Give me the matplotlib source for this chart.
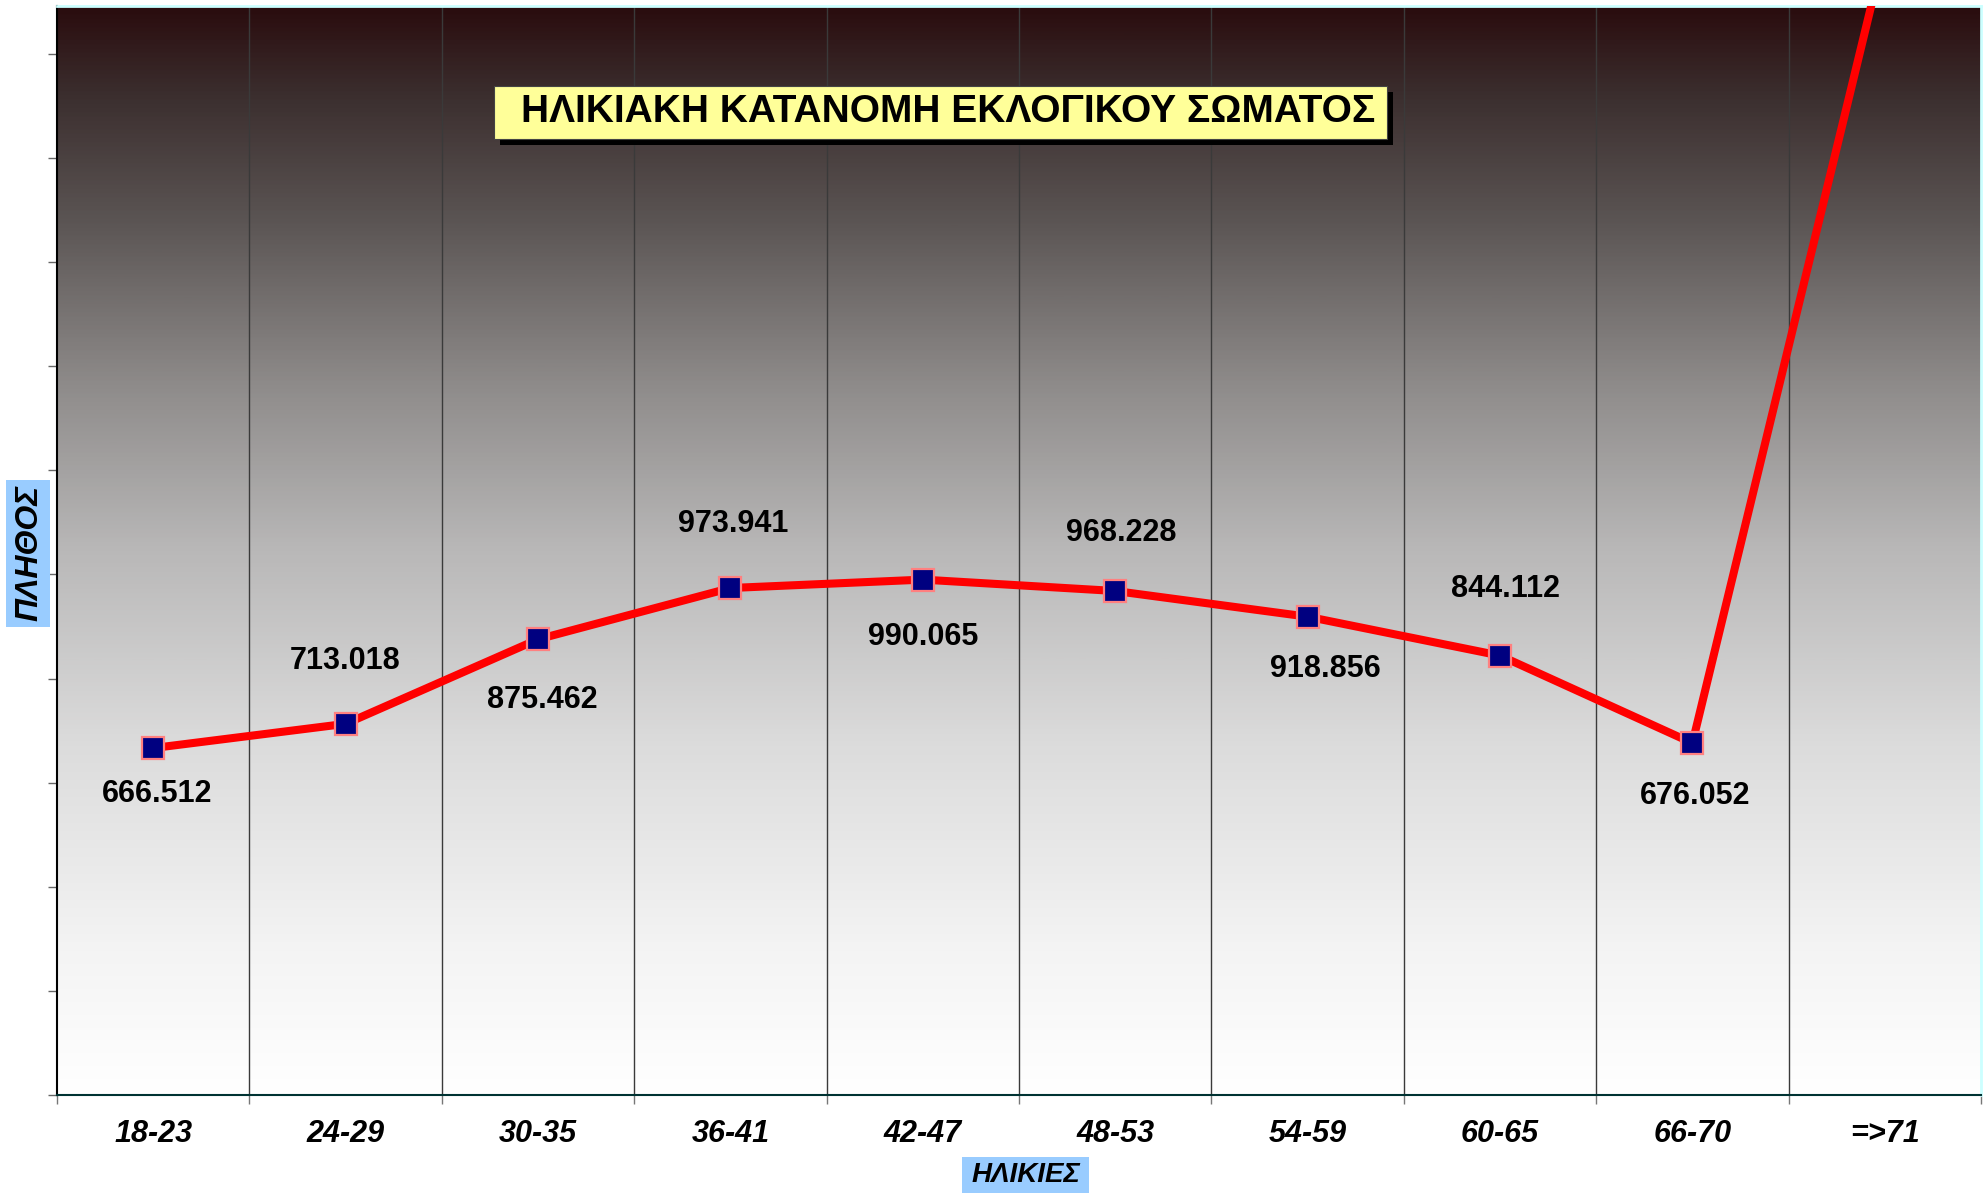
import numpy as np
import matplotlib
matplotlib.use("Agg")
import matplotlib.pyplot as plt
from matplotlib.colors import LinearSegmentedColormap
from matplotlib.patches import Rectangle
from matplotlib import font_manager

# ---------------- data ----------------
categories = ["18-23", "24-29", "30-35", "36-41", "42-47", "48-53",
              "54-59", "60-65", "66-70", "=>71"]
voters = [666512, 713018, 875462, 973941, 990065, 968228,
          918856, 844112, 676052, 2200000]
title = "ΗΛΙΚΙΑΚΗ ΚΑΤΑΝΟΜΗ ΕΚΛΟΓΙΚΟΥ ΣΩΜΑΤΟΣ"
xlabel = "ΗΛΙΚΙΕΣ"
ylabel = "ΠΛΗΘΟΣ"
y_max = 2092000
y_step = 200000

# label offsets in points (style only): (dx, dy)
label_offsets = [(3, -33), (0, 45), (3, -44), (2, 46), (0, -41),
                 (4, 42), (13, -38), (4, 48), (2, -38), (0, 40)]

W, H = 1986, 1194
fig = plt.figure(figsize=(W / 100, H / 100), dpi=100)
fig.patch.set_facecolor("white")

avail = {f.name for f in font_manager.fontManager.ttflist}
base = "Liberation Sans" if "Liberation Sans" in avail else "DejaVu Sans"
plt.rcParams["font.family"] = [base, "DejaVu Sans"]

ax_l, ax_r, ax_t, ax_b = 57, 1981, 6, 1095
ax = fig.add_axes([ax_l / W, 1 - ax_b / H, (ax_r - ax_l) / W, (ax_b - ax_t) / H])

# gradient background
stops = [(0.0, "#ffffff"), (0.13, "#f4f4f4"), (0.32, "#dcdcdc"),
         (0.50, "#b9b8b8"), (0.65, "#8f8c8b"), (0.80, "#5c5655"),
         (0.92, "#3b2e2e"), (1.0, "#2a0c0e")]
cmap = LinearSegmentedColormap.from_list("bg", stops)
grad = np.linspace(0, 1, 512).reshape(-1, 1)
ax.imshow(grad, cmap=cmap, aspect="auto", extent=[0, 1, 0, 1],
          origin="lower", transform=ax.transAxes, zorder=0)

x = np.arange(len(categories))
ax.plot(x, voters, color="#ff0000", lw=5.8, zorder=4, solid_joinstyle="miter",
        marker="s", markersize=16, markerfacecolor="#000080",
        markeredgecolor="#ff8080", markeredgewidth=1.6)

ax.set_xlim(-0.5, len(categories) - 0.5)
ax.set_ylim(0, y_max)

# grid lines between categories
for b in np.arange(0.5, len(categories) - 0.5, 1.0):
    ax.axvline(b, color="#3a3a3a", lw=1.0, zorder=2)

# data labels
for i, v in enumerate(voters):
    if v > y_max:
        continue
    txt = f"{v:,}".replace(",", ".")
    dx, dy = label_offsets[i]
    ax.annotate(txt, (x[i], v), xytext=(dx, dy), textcoords="offset points",
                ha="center", va="center", fontsize=22, fontweight="bold",
                color="black", zorder=6)

# axes ticks
ax.set_yticks(np.arange(0, y_max + 1, y_step))
ax.set_yticklabels([])
ax.tick_params(axis="y", direction="out", length=6.7, width=1.0, color="#666666")
ax.set_xticks(np.arange(-0.5, len(categories), 1.0))
ax.set_xticklabels([])
ax.tick_params(axis="x", which="major", direction="out", length=6.7, width=1.0,
               color="#777777")
ax.set_xticks(x, minor=True)
ax.set_xticklabels(categories, minor=True, fontsize=22, fontweight="bold",
                   fontstyle="italic")
ax.tick_params(axis="x", which="minor", length=0, pad=17.5)

for s in ["top", "right"]:
    ax.spines[s].set_color("#ccffff")
    ax.spines[s].set_linewidth(2)
ax.spines["left"].set_color("#000000")
ax.spines["left"].set_linewidth(1.5)
ax.spines["bottom"].set_color("#003333")
ax.spines["bottom"].set_linewidth(1.5)

def fig_rect(x0, y0, x1, y1, **kw):
    r = Rectangle((x0 / W, 1 - y1 / H), (x1 - x0) / W, (y1 - y0) / H,
                  transform=fig.transFigure, **kw)
    fig.add_artist(r)

# title box with shadow
fig_rect(500, 92, 1393, 145, facecolor="black", edgecolor="none", zorder=10)
fig_rect(494, 86, 1387, 139, facecolor="#ffff99", edgecolor="#444444",
         lw=0.8, zorder=11)
fig.text(948 / W, 1 - 112 / H, title, ha="center", va="center",
         fontsize=28, fontweight="bold", color="black", zorder=12)

# y label box
fig_rect(6, 480, 50, 627, facecolor="#99ccff", edgecolor="none", zorder=10)
fig.text(29 / W, 1 - 553 / H, ylabel, ha="center", va="center", rotation=90,
         fontsize=23, fontweight="bold", fontstyle="italic", zorder=12)

# x label box
fig_rect(962, 1157, 1089, 1193, facecolor="#99ccff", edgecolor="none", zorder=10)
fig.text(1026 / W, 1 - 1175 / H, xlabel, ha="center", va="center",
         fontsize=20, fontweight="bold", fontstyle="italic", zorder=12)

fig.savefig("out.png", dpi=100)
